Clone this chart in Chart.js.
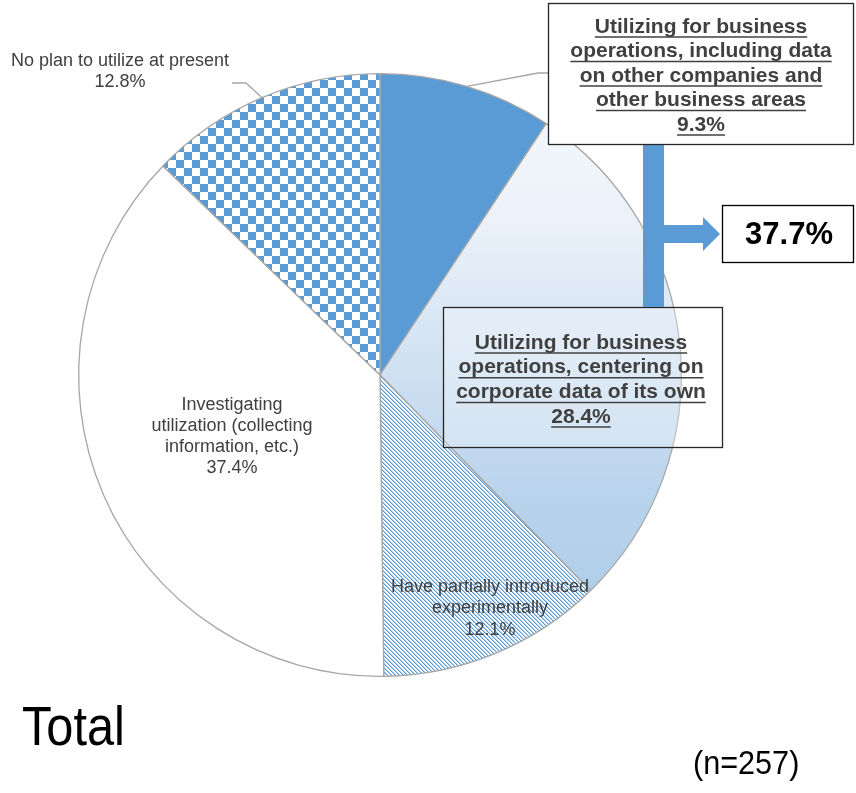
<!DOCTYPE html>
<html>
<head>
<meta charset="utf-8">
<script src="https://cdn.jsdelivr.net/npm/chart.js@4.4.0/dist/chart.umd.min.js"></script>
<style>
  body { margin: 0; background: #fff; }
  canvas { display: block; }
</style>
</head>
<body>
<canvas id="grafica" width="856" height="793"></canvas>
<script>
// datos (porcentajes, sentido horario desde arriba)
const categorias = [
    "Utilizing for business operations, including data on other companies and other business areas",
    "Utilizing for business operations, centering on corporate data of its own",
    "Have partially introduced experimentally",
    "Investigating utilization (collecting information, etc.)",
    "No plan to utilize at present"
];
const porcentajes = [9.3, 28.4, 12.1, 37.4, 12.8];
const etiquetas = [
    ["Utilizing for business", "operations, including data", "on other companies and", "other business areas", "9.3%"],
    ["Utilizing for business", "operations, centering on", "corporate data of its own", "28.4%"],
    ["Have partially introduced", "experimentally", "12.1%"],
    ["Investigating", "utilization (collecting", "information, etc.)", "37.4%"],
    ["No plan to utilize at present", "12.8%"]
];
const totalUtilizando = "37.7%";
const titulo = "Total";
const muestra = "(n=257)";

const azul = "#5B9BD5";
const gris = "#404040";
const FUENTE = '"Liberation Sans", Arial, sans-serif';

function patronCuadros() {
    const c = document.createElement("canvas");
    c.width = 16; c.height = 16;
    const g = c.getContext("2d");
    g.fillStyle = "#fff";
    g.fillRect(0, 0, 16, 16);
    g.fillStyle = azul;
    g.fillRect(0, 0, 8, 8);
    g.fillRect(8, 8, 8, 8);
    return g.createPattern(c, "repeat");
}

function patronDiagonal() {
    const c = document.createElement("canvas");
    c.width = 4; c.height = 4;
    const g = c.getContext("2d");
    g.fillStyle = "#fff";
    g.fillRect(0, 0, 4, 4);
    for (let i = 0; i < 4; i++) {
        g.fillStyle = azul;
        g.fillRect(i, i, 1, 1);
        g.fillStyle = "rgba(91,155,213,0.5)";
        g.fillRect((i + 1) % 4, i, 1, 1);
    }
    return g.createPattern(c, "repeat");
}

const cuadros = patronCuadros();
const diagonal = patronDiagonal();

function degradado(chart) {
    const area = chart.chartArea;
    if (!area) return "#C9DCF0";
    const g = chart.ctx.createLinearGradient(0, area.top, 0, area.bottom);
    g.addColorStop(0, "#F7FAFD");
    g.addColorStop(0.25, "#EAF1F9");
    g.addColorStop(0.7, "#B9D3EC");
    g.addColorStop(1, "#A9C9E7");
    return g;
}

function rellenos(context) {
    switch (context.dataIndex) {
        case 0: return azul;
        case 1: return degradado(context.chart);
        case 2: return diagonal;
        case 3: return "#FFFFFF";
        default: return cuadros;
    }
}

function textoLineas(ctx, lineas, x, y, paso, subrayar) {
    lineas.forEach((t, i) => {
        const yy = y + i * paso;
        ctx.fillText(t, x, yy);
        if (subrayar) {
            const w = ctx.measureText(t).width;
            ctx.beginPath();
            ctx.moveTo(x - w / 2, yy + 10);
            ctx.lineTo(x + w / 2, yy + 10);
            ctx.stroke();
        }
    });
}

function puntoBorde(arco) {
    const p = arco.getProps(["x", "y", "startAngle", "endAngle", "outerRadius"], true);
    const a = (p.startAngle + p.endAngle) / 2;
    return { x: p.x + Math.cos(a) * p.outerRadius, y: p.y + Math.sin(a) * p.outerRadius };
}

const anotaciones = {
    id: "anotaciones",
    afterDraw(chart) {
        const ctx = chart.ctx;
        const arcos = chart.getDatasetMeta(0).data;
        ctx.save();

        // lineas guia
        ctx.strokeStyle = "#A6A6A6";
        ctx.lineWidth = 1.3;
        let p = puntoBorde(arcos[0]);
        ctx.beginPath();
        ctx.moveTo(p.x, p.y);
        ctx.lineTo(538, 73);
        ctx.lineTo(548, 73);
        ctx.stroke();
        p = puntoBorde(arcos[4]);
        ctx.beginPath();
        ctx.moveTo(p.x, p.y);
        ctx.lineTo(246, 83);
        ctx.lineTo(232, 83);
        ctx.stroke();

        // etiquetas normales
        ctx.fillStyle = gris;
        ctx.textAlign = "center";
        ctx.textBaseline = "middle";
        ctx.font = "18px " + FUENTE;
        textoLineas(ctx, etiquetas[4], 120, 61, 21.5, false);
        textoLineas(ctx, etiquetas[3], 232, 405, 21, false);
        textoLineas(ctx, etiquetas[2], 490, 587, 21.5, false);

        // caja 28.4%
        ctx.fillStyle = "rgba(255,255,255,0.3)";
        ctx.fillRect(443, 307, 279, 140);
        ctx.strokeStyle = "#262626";
        ctx.lineWidth = 1.3;
        ctx.strokeRect(443.5, 307.5, 279, 140);

        // flecha
        ctx.fillStyle = azul;
        ctx.fillRect(643, 145, 21, 162);
        ctx.fillRect(664, 225, 40, 18);
        ctx.beginPath();
        ctx.moveTo(703, 217);
        ctx.lineTo(720, 234);
        ctx.lineTo(703, 251);
        ctx.closePath();
        ctx.fill();

        // caja 9.3%
        ctx.fillStyle = "#fff";
        ctx.fillRect(548, 3, 306, 142);
        ctx.strokeRect(548.5, 3.5, 305, 141);

        // caja 37.7%
        ctx.strokeStyle = "#000";
        ctx.strokeRect(722.5, 205.5, 131, 57);
        ctx.fillStyle = "#000";
        ctx.font = "bold 31px " + FUENTE;
        ctx.fillText(totalUtilizando, 789, 235);

        // etiquetas en negrita subrayadas
        ctx.fillStyle = gris;
        ctx.strokeStyle = gris;
        ctx.lineWidth = 1.5;
        ctx.font = "bold 21px " + FUENTE;
        textoLineas(ctx, etiquetas[0], 701, 27, 24.5, true);
        textoLineas(ctx, etiquetas[1], 581, 343, 24.7, true);

        // titulo y muestra
        ctx.fillStyle = "#000";
        ctx.textAlign = "left";
        ctx.textBaseline = "alphabetic";
        ctx.save();
        ctx.translate(22, 745);
        ctx.scale(0.87, 1);
        ctx.font = "56px " + FUENTE;
        ctx.fillText(titulo, 0, 0);
        ctx.restore();
        ctx.save();
        ctx.translate(693, 774);
        ctx.scale(0.9, 1);
        ctx.font = "34px " + FUENTE;
        ctx.fillText(muestra, 0, 0);
        ctx.restore();

        ctx.restore();
    }
};

const ctx = document.getElementById("grafica").getContext("2d");

new Chart(ctx, {
    type: "pie",
    data: {
        labels: categorias,
        datasets: [
            {
                data: porcentajes,
                backgroundColor: rellenos,
                borderColor: "#A6A6A6",
                borderWidth: 1.3,
            },
        ],
    },
    options: {
        responsive: false,
        animation: false,
        layout: {
            padding: { left: 78, right: 174, top: 73, bottom: 116 },
        },
        plugins: {
            legend: { display: false },
            tooltip: { enabled: false },
        },
    },
    plugins: [anotaciones],
});
</script>
</body>
</html>
